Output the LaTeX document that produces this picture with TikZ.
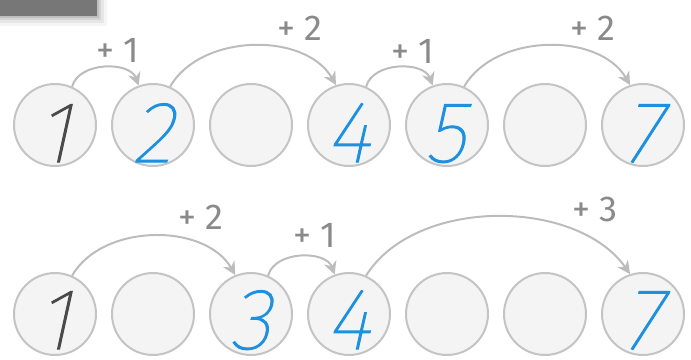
\documentclass[tikz,border=0pt]{standalone}
\usepackage{fontspec}
\setmainfont{Fira Sans}
\newfontfamily\hand[FakeSlant=0.22,FakeBold=1.3]{Fira Sans Thin}
\newfontfamily\lab{Fira Sans}
\usetikzlibrary{arrows.meta}
\definecolor{cfill}{HTML}{F4F4F4}
\definecolor{cline}{HTML}{C4C4C4}
\definecolor{aline}{HTML}{BCBCBC}
\definecolor{labc}{HTML}{8A8A8A}
\definecolor{blue1}{HTML}{1E90E0}
\definecolor{dark1}{HTML}{4A4A4A}
\definecolor{tabc}{HTML}{777777}
\tikzset{
  circ/.style={circle, draw=cline, fill=cfill, line width=2pt, minimum size=82pt, inner sep=0pt},
  digit/.style={inner sep=0pt, anchor=base, font=\hand\fontsize{87}{87}\selectfont},
  ans/.style={digit, text=blue1},
  given/.style={digit, text=dark1},
  jump/.style={draw=aline, line width=2pt, -{Stealth[length=13pt,width=13pt]}},
  lbl/.style={inner sep=0pt, text=labc, font=\lab\fontsize{36}{36}\selectfont},
}
\begin{document}
\begin{tikzpicture}[x=1pt,y=-1pt]
\useasboundingbox (0,0) rectangle (691,359);
% tab with soft shadow
\foreach \o/\op in {10/0.04,7/0.06,4/0.08,2/0.1}{
  \fill[black,opacity=\op] (0,0) rectangle (97+\o,16+\o);
}
\fill[tabc] (0,0) rectangle (97,16);
% circles
\foreach \i/\x in {1/55,2/153,3/251,4/349,5/447,6/545,7/643}{
  \node[circ] (a\i) at (\x,125) {};
  \node[circ] (b\i) at (\x,314) {};
}
\node[given] (ta1) at (54,162) {1};
\node[ans] (ta2) at (152,162) {2};
\node[ans] (ta4) at (348,162) {4};
\node[ans] (ta5) at (445,162) {5};
\node[ans] (ta7) at (642,162) {7};
\node[given] (tb1) at (54,349) {1};
\node[ans] (tb3) at (250,349) {3};
\node[ans] (tb4) at (348,349) {4};
\node[ans] (tb7) at (642,349) {7};
% top jumps
\draw[jump] (a1.66) to[out=75,in=110] (a2.110);
\draw[jump] (a2.66) to[out=60,in=120,looseness=0.95] (a4.108);
\draw[jump] (a4.66) to[out=75,in=110] (a5.110);
\draw[jump] (a5.66) to[out=60,in=120,looseness=0.95] (a7.108);
\node[lbl] (la1) at (118,50) {+ 1};
\node[lbl] (la2) at (300,28) {+ 2};
\node[lbl] (la3) at (413,51) {+ 1};
\node[lbl] (la4) at (593,28) {+ 2};
% bottom jumps
\draw[jump] (b1.66) to[out=60,in=120,looseness=0.95] (b3.112);
\draw[jump] (b3.66) to[out=75,in=110] (b4.110);
\draw[jump] (b4.66) to[out=58,in=125,looseness=0.9] (b7.108);
\node[lbl] (lb1) at (201,217) {+ 2};
\node[lbl] (lb2) at (315,235) {+ 1};
\node[lbl] (lb3) at (595,209) {+ 3};
\end{tikzpicture}
\end{document}
